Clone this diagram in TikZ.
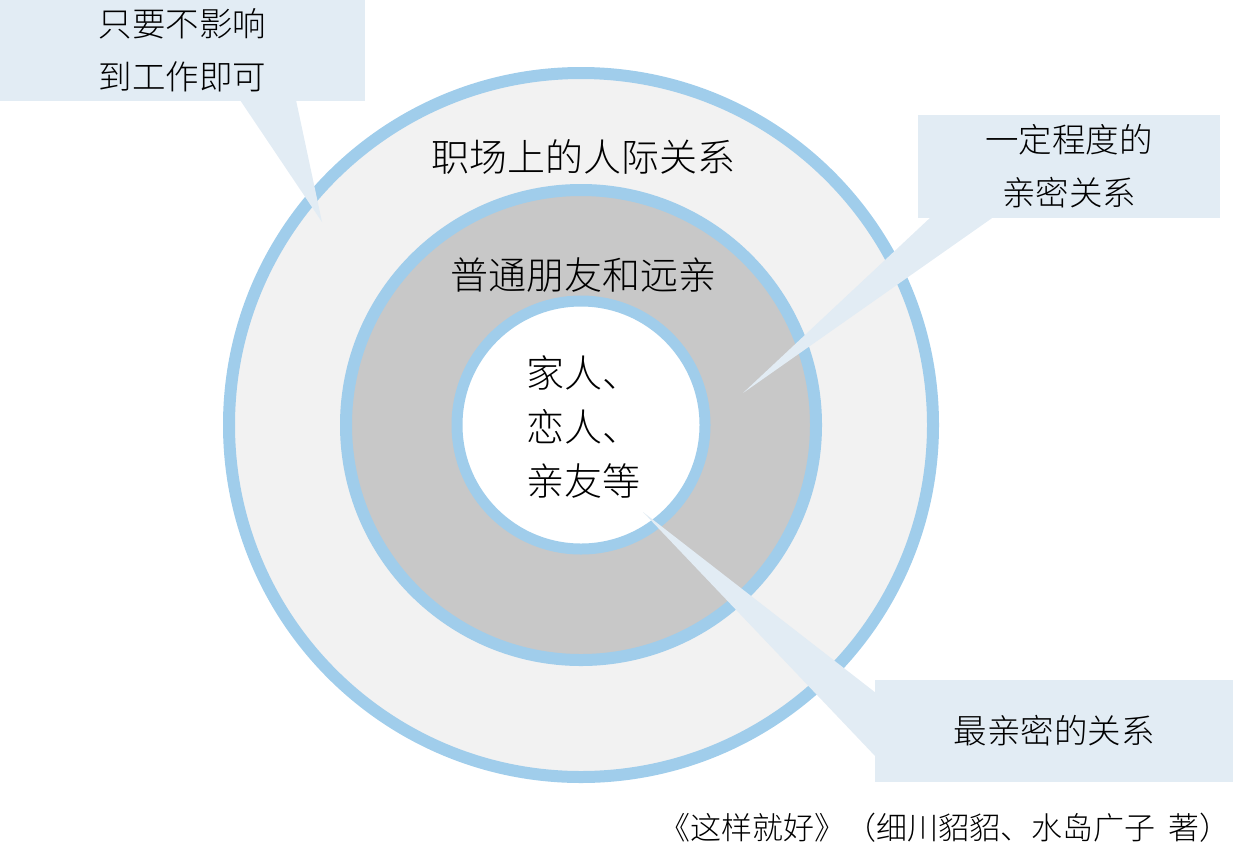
\documentclass[tikz,border=0pt]{standalone}
\usepackage{fontspec}
\newfontfamily\cjk{Noto Sans CJK SC Light}
\definecolor{ringblue}{HTML}{A0CDEB}
\definecolor{outerfill}{HTML}{F2F2F2}
\definecolor{midfill}{HTML}{C8C8C8}
\definecolor{callfill}{HTML}{E2ECF4}
\tikzset{
  ring/.style={circle, draw=ringblue, inner sep=0pt},
  ringlabel/.style={font=\cjk\fontsize{38}{40}\selectfont, inner sep=0pt, align=center},
  callbox/.style={fill=callfill, draw=none, inner sep=0pt, align=center, font=\cjk\fontsize{33.5}{53}\selectfont},
  pointer/.style={fill=callfill, draw=none},
}
\begin{document}
\begin{tikzpicture}[x=1pt,y=-1pt]
\useasboundingbox (0,0) rectangle (1233,844);
\coordinate (c) at (581,425);
% rings
\node[ring, line width=12pt, fill=outerfill, minimum size=704pt] (outer) at (c) {};
\node[ring, line width=12pt, fill=midfill, minimum size=470pt] (middle) at (c) {};
\node[ring, line width=11pt, fill=white, minimum size=248pt] (inner) at (c) {};
% ring labels
\node[ringlabel] (lab1) at (583,157) {职场上的人际关系};
\node[ringlabel] (lab2) at (583,275) {普通朋友和远亲};
\node[ringlabel, font=\cjk\fontsize{38}{54}\selectfont] (lab3) at (583,427) {家人、\\恋人、\\亲友等};
% callout 1
\coordinate (t1) at (322,222);
\coordinate (b1a) at (240,100);
\coordinate (b1b) at (296,100);
\fill[pointer] (b1a) -- (t1) -- (b1b) -- cycle;
\node[callbox, minimum width=365pt, minimum height=101pt] (box1) at (182.5,50.5) {只要不影响\\到工作即可};
% callout 2
\coordinate (t2) at (743,393);
\coordinate (b2a) at (932,216);
\coordinate (b2b) at (995,216);
\fill[pointer] (b2a) -- (t2) -- (b2b) -- cycle;
\node[callbox, minimum width=302pt, minimum height=103pt] (box2) at (1069,166.5) {一定程度的\\亲密关系};
% callout 3
\coordinate (t3) at (643,512);
\coordinate (b3a) at (876,693);
\coordinate (b3b) at (876,757);
\fill[pointer] (b3a) -- (t3) -- (b3b) -- cycle;
\node[callbox, minimum width=358pt, minimum height=102pt] (box3) at (1054,731) {最亲密的关系};
% caption
\node[font=\cjk\fontsize{31}{34}\selectfont, anchor=east, inner sep=0pt] (cap) at (1231,828) {《这样就好》（细川貂貂、水岛广子\ \ 著）};
\end{tikzpicture}
\end{document}
